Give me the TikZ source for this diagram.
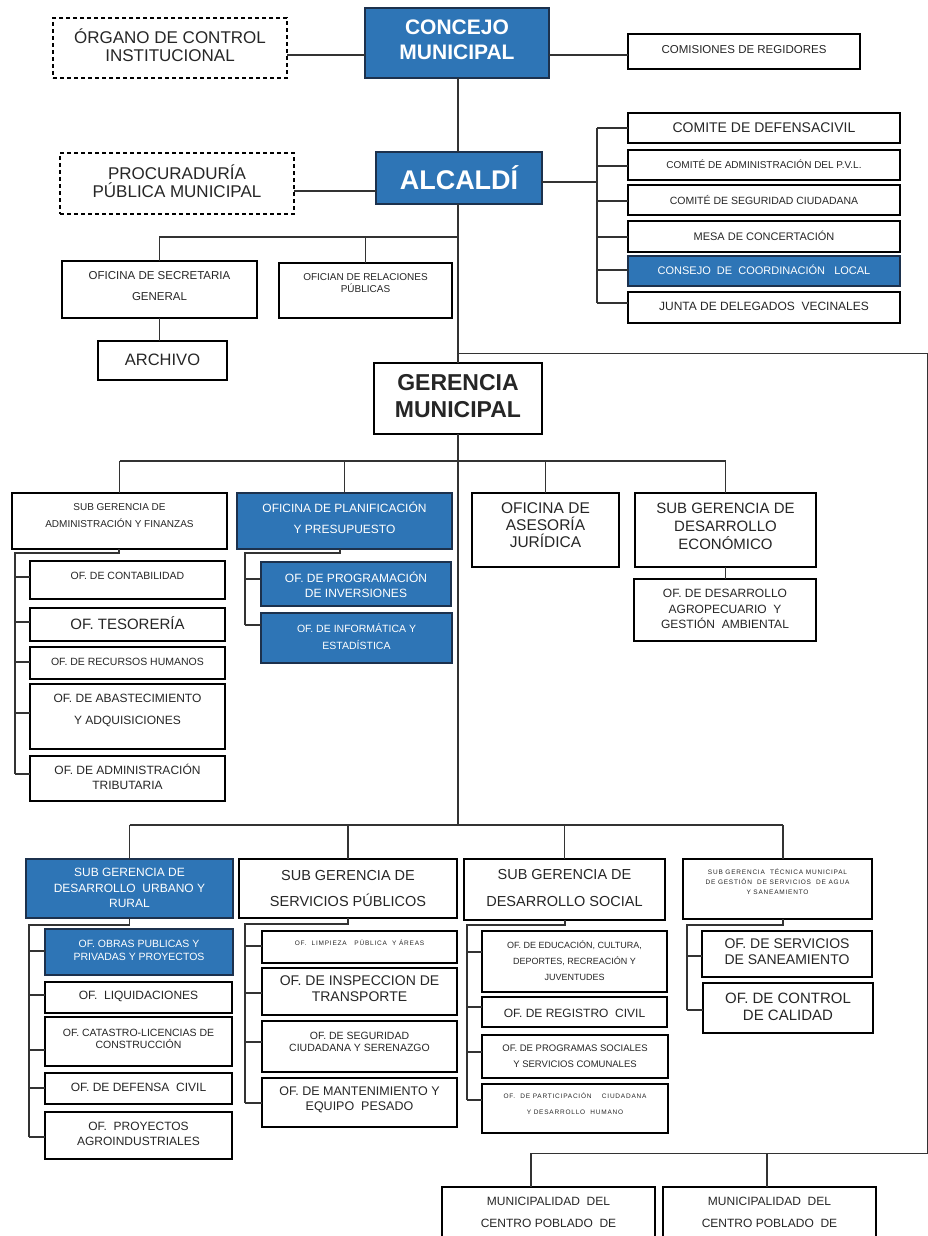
\documentclass[tikz,border=0pt]{standalone}
\usepackage{fontspec}
\setmainfont{Liberation Sans}
\newfontfamily\spacedfont[LetterSpace=12]{Liberation Sans}
\definecolor{obl}{HTML}{2E75B6}
\definecolor{obd}{HTML}{1C314D}
\definecolor{ink}{HTML}{262626}
\definecolor{lng}{HTML}{333333}
\newcommand\fs[2]{\fontsize{#1pt}{#2pt}\selectfont}
\tikzset{
  wbox/.style={draw=black, line width=1.4pt, fill=white, inner sep=0pt, outer sep=0pt},
  bbox/.style={draw=obd, line width=1.4pt, fill=obl, inner sep=0pt, outer sep=0pt},
  dbox/.style={draw=black, line width=1.2pt, dash pattern=on 4pt off 3pt, fill=white, inner sep=0pt, outer sep=0pt},
  txt/.style={align=center, text=ink, inner sep=0pt},
  wtxt/.style={align=center, text=white, inner sep=0pt},
  ln/.style={draw=lng, line width=1.3pt},
  lnt/.style={draw=lng, line width=1pt},
}
% name, x1, y1, x2, y2, box style, text style, text centre y, text
\newcommand\bx[9]{%
  \node[#6, anchor=north west, minimum width={(#4-#2)*1pt}, minimum height={(#5-#3)*1pt}] (#1) at (#2,#3) {};
  \node[#7] (#1t) at ({(#2+#4)/2},#8) {#9};
}
% parent, drop x, bus x, bus y, last y, list name/y
\newcommand\kids[6]{%
  \coordinate (#1k) at (#3,#4);
  \draw[ln] (#1.south -| #2,0) -- (#2,#4) -- (#1k) -- (#3,#5);
  \foreach \n/\y in {#6} { \draw[ln] (#3,\y) -- (\n.west |- 0,\y); }
}
\begin{document}
\begin{tikzpicture}[x=1pt,y=-1pt]
\useasboundingbox (0,0) rectangle (928,1236);
\clip (0,0) rectangle (928,1236);
\fill[white] (0,0) rectangle (928,1236);

% ---------- top ----------
\bx{organo}{53}{18}{287}{78}{dbox}{txt,font=\fs{17}{18.5}}{45}{ÓRGANO DE CONTROL\\INSTITUCIONAL}
\bx{concejo}{365}{8}{549}{78}{bbox}{wtxt,font=\fs{21}{25}\bfseries}{40}{CONCEJO\\MUNICIPAL}
\bx{comis}{628}{34}{860}{69}{wbox}{txt,font=\fs{11.5}{13}}{50}{COMISIONES DE REGIDORES}

\bx{alcaldi}{376}{152}{542}{204}{bbox}{wtxt,font=\fs{27}{30}\bfseries}{178}{ALCALDÍ}
\bx{procu}{60}{153}{294}{214}{dbox}{txt,font=\fs{17}{18.5}}{181}{PROCURADURÍA\\PÚBLICA MUNICIPAL}

\bx{defensa}{628}{113}{900}{143}{wbox}{txt,font=\fs{14}{16}}{128}{COMITE DE DEFENSACIVIL}
\bx{pvl}{628}{150}{900}{180}{wbox}{txt,font=\fs{10}{12}}{164}{COMITÉ DE ADMINISTRACIÓN DEL P.V.L.}
\bx{segur}{628}{185}{900}{215}{wbox}{txt,font=\fs{10.5}{12}}{200}{COMITÉ DE SEGURIDAD CIUDADANA}
\bx{mesa}{628}{221}{900}{252}{wbox}{txt,font=\fs{11}{12}}{236}{MESA DE CONCERTACIÓN}
\bx{consejo}{628}{256}{900}{286}{bbox}{wtxt,font=\fs{11}{12}}{270}{CONSEJO\ \ DE\ \ COORDINACIÓN\ \ \ LOCAL}
\bx{junta}{628}{292}{900}{323}{wbox}{txt,font=\fs{12}{13}}{306}{JUNTA DE DELEGADOS\ \ VECINALES}

\bx{secre}{62}{261}{257}{318}{wbox}{txt,font=\fs{11.5}{21}}{286}{OFICINA DE SECRETARIA\\GENERAL}
\bx{relac}{279}{263}{452}{318}{wbox}{txt,font=\fs{10}{12}}{283}{OFICIAN DE RELACIONES\\PÚBLICAS}
\bx{archivo}{98}{341}{227}{380}{wbox}{txt,font=\fs{16.5}{18}}{360}{ARCHIVO}

\bx{geren}{374}{363}{542}{434}{wbox}{txt,font=\fs{23}{27}\bfseries}{396}{GERENCIA\\MUNICIPAL}

% ---------- gerencia row ----------
\bx{admin}{12}{493}{227}{549}{wbox}{txt,font=\fs{10}{17}}{516}{SUB GERENCIA DE\\ADMINISTRACIÓN Y FINANZAS}
\bx{planif}{237}{493}{452}{549}{bbox}{wtxt,font=\fs{12}{21}}{518}{OFICINA DE PLANIFICACIÓN\\Y PRESUPUESTO}
\bx{asesor}{472}{493}{619}{567}{wbox}{txt,font=\fs{15.5}{17}}{525}{OFICINA DE\\ASESORÍA\\JURÍDICA}
\bx{econ}{635}{493}{816}{567}{wbox}{txt,font=\fs{15}{18}}{526}{SUB GERENCIA DE\\DESARROLLO\\ECONÓMICO}
\bx{agro}{634}{579}{816}{641}{wbox}{txt,font=\fs{12}{15.5}}{609}{OF. DE DESARROLLO\\AGROPECUARIO\ \ Y\\GESTIÓN\ \ AMBIENTAL}

\bx{conta}{30}{561}{225}{599}{wbox}{txt,font=\fs{10.5}{12}}{576}{OF. DE CONTABILIDAD}
\bx{teso}{30}{608}{225}{641}{wbox}{txt,font=\fs{15}{17}}{623}{OF. TESORERÍA}
\bx{rrhh}{30}{647}{225}{679}{wbox}{txt,font=\fs{10.5}{12}}{662}{OF. DE RECURSOS HUMANOS}
\bx{abast}{30}{684}{225}{749}{wbox}{txt,font=\fs{12}{22}}{710}{OF. DE ABASTECIMIENTO\\Y ADQUISICIONES}
\bx{tribut}{30}{756}{225}{801}{wbox}{txt,font=\fs{12}{15.5}}{777}{OF. DE ADMINISTRACIÓN\\TRIBUTARIA}

\bx{prog}{261}{562}{451}{606}{bbox}{wtxt,font=\fs{12}{15.5}}{585}{OF. DE PROGRAMACIÓN\\DE INVERSIONES}
\bx{info}{261}{613}{452}{663}{bbox}{wtxt,font=\fs{10.5}{17}}{636}{OF. DE INFORMÁTICA Y\\ESTADÍSTICA}

% ---------- lower row ----------
\bx{urbano}{26}{859}{233}{918}{bbox}{wtxt,font=\fs{12}{15.5}}{888}{SUB GERENCIA DE\\DESARROLLO\ \ URBANO Y\\RURAL}
\bx{servic}{239}{859}{457}{918}{wbox}{txt,font=\fs{14.5}{26}}{888}{SUB GERENCIA DE\\SERVICIOS PÚBLICOS}
\bx{social}{464}{859}{665}{920}{wbox}{txt,font=\fs{14.5}{27}}{888}{SUB GERENCIA DE\\DESARROLLO SOCIAL}
\bx{agua}{683}{859}{872}{919}{wbox}{txt,font={\spacedfont\fs{6.5}{10}}}{882}{SUB GERENCIA\ \ TÉCNICA MUNICIPAL\\DE GESTIÓN\ \ DE SERVICIOS\ \ DE AGUA\\Y SANEAMIENTO}

\bx{obras}{45}{929}{233}{975}{bbox}{wtxt,font=\fs{10.5}{13}}{950}{OF. OBRAS PUBLICAS Y\\PRIVADAS Y PROYECTOS}
\bx{liquid}{45}{982}{232}{1013}{wbox}{txt,font=\fs{12}{13}}{996}{OF.\ \ LIQUIDACIONES}
\bx{catas}{45}{1017}{232}{1066}{wbox}{txt,font=\fs{10.5}{12.5}}{1039}{OF. CATASTRO-LICENCIAS DE\\CONSTRUCCIÓN}
\bx{defciv}{45}{1073}{232}{1104}{wbox}{txt,font=\fs{12}{13}}{1087}{OF. DE DEFENSA\ \ CIVIL}
\bx{agroind}{45}{1112}{232}{1159}{wbox}{txt,font=\fs{12}{15}}{1134}{OF.\ \ PROYECTOS\\AGROINDUSTRIALES}

\bx{limp}{262}{931}{457}{963}{wbox}{txt,font={\spacedfont\fs{6.5}{8}}}{943}{OF.\ \ LIMPIEZA\ \ \ PÚBLICA\ \ Y ÁREAS}
\bx{inspec}{262}{968}{457}{1015}{wbox}{txt,font=\fs{14}{16}}{989}{OF. DE INSPECCION DE\\TRANSPORTE}
\bx{segciu}{262}{1021}{457}{1072}{wbox}{txt,font=\fs{10.5}{12}}{1042}{OF. DE SEGURIDAD\\CIUDADANA Y SERENAZGO}
\bx{manten}{262}{1078}{457}{1127}{wbox}{txt,font=\fs{12.5}{15}}{1100}{OF. DE MANTENIMIENTO Y\\EQUIPO\ \ PESADO}

\bx{educ}{482}{931}{667}{992}{wbox}{txt,font=\fs{9}{16}}{961}{OF. DE EDUCACIÓN, CULTURA,\\DEPORTES, RECREACIÓN Y\\JUVENTUDES}
\bx{regis}{482}{997}{667}{1027}{wbox}{txt,font=\fs{12}{13}}{1013}{OF. DE REGISTRO\ \ CIVIL}
\bx{progso}{482}{1035}{668}{1078}{wbox}{txt,font=\fs{9.5}{15.5}}{1056}{OF. DE PROGRAMAS SOCIALES\\Y SERVICIOS COMUNALES}
\bx{partic}{482}{1084}{668}{1133}{wbox}{txt,font={\spacedfont\fs{6.5}{16}}}{1104}{OF.\ \ DE PARTICIPACIÓN\ \ \ \ CIUDADANA\\Y DESARROLLO\ \ HUMANO}

\bx{sanea}{702}{931}{872}{977}{wbox}{txt,font=\fs{14}{16}}{952}{OF. DE SERVICIOS\\DE SANEAMIENTO}
\bx{calid}{703}{983}{873}{1033}{wbox}{txt,font=\fs{15}{16.5}}{1007}{OF. DE CONTROL\\DE CALIDAD}

\bx{muni1}{442}{1187}{655}{1260}{wbox}{txt,font=\fs{12}{22}}{1212}{MUNICIPALIDAD\ \ DEL\\CENTRO POBLADO\ \ DE}
\bx{muni2}{663}{1187}{876}{1260}{wbox}{txt,font=\fs{12}{22}}{1212}{MUNICIPALIDAD\ \ DEL\\CENTRO POBLADO\ \ DE}

% ---------- connectors ----------
\coordinate (spx) at (458,0);
\draw[ln] (organo.east |- 0,55) -- (concejo.west |- 0,55);
\draw[ln] (concejo.east |- 0,55) -- (comis.west |- 0,55);
\draw[ln] (concejo.south -| spx) -- (alcaldi.north -| spx);
\draw[ln] (procu.east |- 0,191) -- (alcaldi.west |- 0,191);

% right committees
\coordinate (rb) at (597,182);
\draw[ln] (alcaldi.east |- rb) -- (rb);
\draw[ln] (597,128) -- (597,303);
\foreach \n/\y in {defensa/128,pvl/166,segur/201,mesa/237,consejo/270,junta/303}
  \draw[ln] (597,\y) -- (\n.west |- 0,\y);

% left branch of alcaldia
\coordinate (lb) at (458,237);
\draw[ln] (alcaldi.south -| spx) -- (geren.north -| spx);
\draw[ln] (lb) -- (lb -| secre.north) -- (secre.north);
\draw[ln] (relac.north) -- (relac.north |- lb);
\draw[ln] (secre.south) -- (secre.south |- archivo.north);

% right long line to the centros poblados
\coordinate (rr1) at (927,353);
\coordinate (rr2) at (927,1153);
\coordinate (mb1) at (531,1153);
\coordinate (mb2) at (767,1153);
\draw[lnt] (spx |- rr1) -- (rr1) -- (rr2) -- (mb1);
\draw[ln] (mb1) -- (mb1 |- muni1.north);
\draw[ln] (mb2) -- (mb2 |- muni2.north);

% gerencia bus
\coordinate (gb) at (0,461);
\draw[ln] (admin.north |- gb) -- (econ.north |- gb);
\foreach \n in {admin,planif,asesor,econ}
  \draw[ln] (\n.north |- gb) -- (\n.north);
\draw[ln] (econ.south) -- (econ.south |- agro.north);

\kids{admin}{119}{15}{553}{774}{conta/577,teso/622,rrhh/662,abast/713,tribut/774}
\kids{planif}{340}{245}{553}{625}{prog/579,info/625}

% lower bus
\coordinate (bb) at (0,825);
\coordinate (agx) at (783,0);
\draw[ln] (geren.south -| spx) -- (spx |- bb);
\draw[ln] (urbano.north |- bb) -- (agx |- bb);
\foreach \n in {urbano,servic,social}
  \draw[ln] (\n.north |- bb) -- (\n.north);
\draw[ln] (agx |- bb) -- (agx |- agua.north);

\kids{urbano}{129.5}{29}{925}{1137}{obras/951,liquid/995,catas/1050,defciv/1088,agroind/1137}
\kids{servic}{348}{245}{924}{1103}{limp/946,inspec/993,segciu/1042,manten/1103}
\kids{social}{565}{467}{925}{1100}{educ/952,regis/1007,progso/1052,partic/1100}
\kids{agua}{783}{687}{925}{1010}{sanea/956,calid/1010}
\end{tikzpicture}
\end{document}
